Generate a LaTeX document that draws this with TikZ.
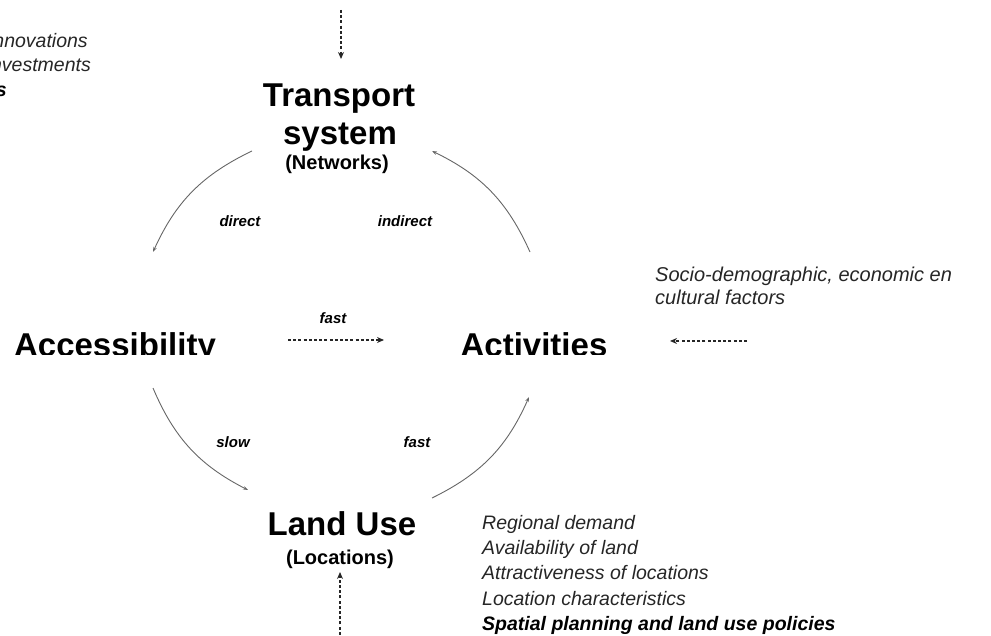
\documentclass[tikz,border=0pt]{standalone}
\usepackage{fontspec}
\setmainfont{Liberation Sans}
\usetikzlibrary{arrows.meta}
\begin{document}
\begin{tikzpicture}[x=1pt,y=1pt,
  every node/.style={inner sep=0pt, text=black},
  title/.style={font=\fontsize{33}{38}\selectfont\bfseries, anchor=base},
  sub/.style={font=\fontsize{20}{24}\selectfont\bfseries, anchor=base},
  factor/.style={font=\fontsize{19.5}{24}\selectfont\itshape, text=black!85},
  policy/.style={font=\fontsize{19.5}{24}\selectfont\bfseries\itshape},
  tag/.style={font=\fontsize{15}{18}\selectfont\bfseries\itshape, anchor=base},
  link/.style={draw=black!60, line width=0.9pt, -{Stealth[length=5pt,width=3.5pt]}},
  drive/.style={draw=black!85, line width=1.5pt, dash pattern=on 3pt off 2.2pt,
                -{Stealth[length=7pt,width=6pt]}},
]
\useasboundingbox (0,0) rectangle (991,-636);
\begin{scope}
\clip (0,0) rectangle (991,-636);

% the four elements of the cycle
\node[title] (ts) at (339,-107) {Transport};
\node[title] (sys) at (340,-145) {system};
\node[sub]   (net) at (337,-170) {(Networks)};
\node[title] (lu) at (342,-535) {Land Use};
\node[sub]   (loc) at (340,-564) {(Locations)};
\begin{scope}
  \clip (0,-300) rectangle (991,-355);
  \node[title] (acc) at (115,-356) {Accessibility};
  \node[title] (act) at (534,-356) {Activities};
\end{scope}

% feedback arcs
\coordinate (tl1) at (252,-151);  \coordinate (tl2) at (153,-252);
\coordinate (tr1) at (530,-252);  \coordinate (tr2) at (432,-151);
\coordinate (bl1) at (153,-388);  \coordinate (bl2) at (248,-490);
\coordinate (br1) at (432,-498);  \coordinate (br2) at (529,-397);
\draw[link] (tl1) to[bend right=20] (tl2);
\draw[link] (tr1) to[bend right=20] (tr2);
\draw[link] (bl1) to[bend right=20] (bl2);
\draw[link] (br1) to[bend right=20] (br2);

\node[tag] (ldirect)   at (240,-227) {direct};
\node[tag] (lindirect) at (405,-227) {indirect};
\node[tag] (lslow)     at (233,-447) {slow};
\node[tag] (lfast2)    at (417,-447) {fast};
\node[tag] (lfast1)    at (333,-324) {fast};

% external influences
\coordinate (topin) at (341,-10);   \coordinate (topto) at (341,-59);
\coordinate (botin) at (340,-640);  \coordinate (botto) at (340,-572);
\coordinate (midin) at (288,-340);  \coordinate (midto) at (384,-340);
\coordinate (rgtin) at (747,-341);  \coordinate (rgtto) at (670,-341);
\draw[drive] (topin) -- (topto);
\draw[drive] (botin) -- (botto);
\draw[drive] (midin) -- (midto);
\draw[drive] (rgtin) -- (rgtto);

% transport-side factors
\node[factor, anchor=base east] (f1) at (88,-48) {Technological innovations};
\node[factor, anchor=base east] (f2) at (91,-72) {Infrastructure investments};
\node[policy, anchor=base east] (f3) at (7,-97) {Transport policies};

% socio-economic factors
\node[factor, anchor=base west, font=\fontsize{20}{24}\selectfont\itshape] (s1) at (655,-282) {Socio-demographic, economic en};
\node[factor, anchor=base west, font=\fontsize{20}{24}\selectfont\itshape] (s2) at (655,-305) {cultural factors};

% land-use factors
\node[factor, anchor=base west] (l1) at (482,-529) {Regional demand};
\node[factor, anchor=base west] (l2) at (482,-554) {Availability of land};
\node[factor, anchor=base west] (l3) at (482,-579) {Attractiveness of locations};
\node[factor, anchor=base west] (l4) at (482,-605) {Location characteristics};
\node[policy, anchor=base west] (l5) at (482,-630) {Spatial planning and land use policies};
\end{scope}
\end{tikzpicture}
\end{document}
